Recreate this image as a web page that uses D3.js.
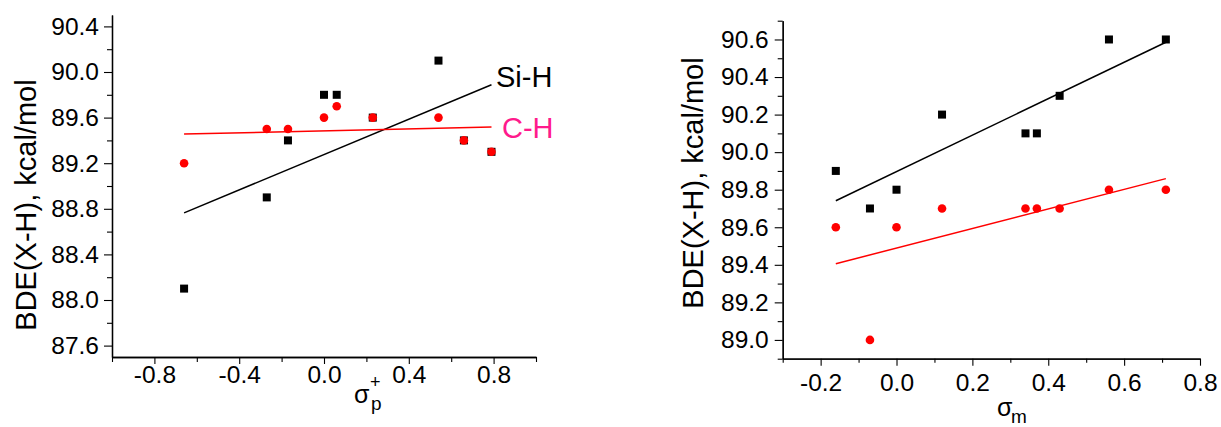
<!DOCTYPE html>
<html>
<head>
<meta charset="utf-8">
<script src="https://cdn.jsdelivr.net/npm/d3@7"></script>
<style>
  body { margin: 0; background: #fff; }
  svg { display: block; font-family: "Liberation Sans", Arial, sans-serif; }
</style>
</head>
<body>
<svg id="chart" width="1221" height="427"></svg>
<script>
// left panel: sigma_p+ substituent constants
const sigmaP = [-0.66, -0.27, -0.17, 0.0, 0.06, 0.23, 0.54, 0.66, 0.79];
const siHLeft = [88.1, 88.9, 89.4, 89.8, 89.8, 89.6, 90.1, 89.4, 89.3];
const cHLeft = [89.2, 89.5, 89.5, 89.6, 89.7, 89.6, 89.6, 89.4, 89.3];
const leftXTicks = [-0.8, -0.4, 0.0, 0.4, 0.8];
const leftXMinor = [-1.0, -0.6, -0.2, 0.2, 0.6, 1.0];
const leftYTicks = [87.6, 88.0, 88.4, 88.8, 89.2, 89.6, 90.0, 90.4];
const leftYMinor = [87.8, 88.2, 88.6, 89.0, 89.4, 89.8, 90.2];

// right panel: sigma_m
const sigmaM = [-0.16, -0.07, 0.0, 0.12, 0.34, 0.37, 0.43, 0.56, 0.71];
const siHRight = [89.9, 89.7, 89.8, 90.2, 90.1, 90.1, 90.3, 90.6, 90.6];
const cHRight = [89.6, 89.0, 89.6, 89.7, 89.7, 89.7, 89.7, 89.8, 89.8];
const rightXTicks = [-0.2, 0.0, 0.2, 0.4, 0.6, 0.8];
const rightXMinor = [-0.3, -0.1, 0.1, 0.3, 0.5, 0.7];
const rightYTicks = [89.0, 89.2, 89.4, 89.6, 89.8, 90.0, 90.2, 90.4, 90.6];
const rightYMinor = [88.9, 89.1, 89.3, 89.5, 89.7, 89.9, 90.1, 90.3, 90.5, 90.7];

const yTitle = "BDE(X-H), kcal/mol";

// least squares fit, drawn between min and max x like Origin does
function linfit(xs, ys) {
    const n = xs.length;
    const mx = d3.mean(xs), my = d3.mean(ys);
    let sxy = 0, sxx = 0;
    for (let i = 0; i < n; i++) {
        sxy += (xs[i] - mx) * (ys[i] - my);
        sxx += (xs[i] - mx) * (xs[i] - mx);
    }
    const b = sxy / sxx, a = my - b * mx;
    const x0 = d3.min(xs), x1 = d3.max(xs);
    return [[x0, a + b * x0], [x1, a + b * x1]];
}

const svg = d3.select("#chart");
// plain hyphen for negatives, like the original
const fmt = d => d3.format(".1f")(d).replace("\u2212", "-");

function drawPanel(p) {
    const xScale = d3.scaleLinear().domain(p.xDomain).range([p.left, p.right]);
    const yScale = d3.scaleLinear().domain(p.yDomain).range([p.bottom, p.top]);

    // x axis
    const gx = svg.append("g").attr("transform", "translate(0," + p.bottom + ")");
    gx.call(d3.axisBottom(xScale).tickValues(p.xTicks).tickFormat(fmt)
        .tickSize(p.majorX).tickPadding(p.xPad).tickSizeOuter(0));
    gx.append("g").call(d3.axisBottom(xScale).tickValues(p.xMinor).tickFormat("")
        .tickSize(p.minorX).tickSizeOuter(0));

    const gy = svg.append("g").attr("transform", "translate(" + p.left + ",0)");
    gy.call(d3.axisLeft(yScale).tickValues(p.yTicks).tickFormat(fmt)
        .tickSize(8).tickPadding(p.yPad).tickSizeOuter(0));
    gy.append("g").call(d3.axisLeft(yScale).tickValues(p.yMinor).tickFormat("")
        .tickSize(5).tickSizeOuter(0));

    svg.selectAll(".domain").attr("stroke", "#000").attr("stroke-width", 1.3);
    svg.selectAll(".tick line").attr("stroke", "#000").attr("stroke-width", 1.1);
    svg.selectAll(".tick text").attr("fill", "#000").style("font-size", "24.5px")
        .style("font-family", "'Liberation Sans', Arial, sans-serif");

    // y title
    svg.append("text")
        .attr("transform", "translate(" + p.yTitleX + "," + p.yTitleY + ")rotate(-90)")
        .attr("text-anchor", "middle")
        .style("font-size", "29px")
        .text(yTitle);

    const line = d3.line().x(d => xScale(d[0])).y(d => yScale(d[1]));

    svg.append("path").datum(linfit(p.xs, p.siH))
        .attr("d", line).attr("fill", "none").attr("stroke", "#000").attr("stroke-width", 1.5);
    svg.append("path").datum(linfit(p.xs, p.cH))
        .attr("d", line).attr("fill", "none").attr("stroke", "#ff0000").attr("stroke-width", 1.5);

    svg.append("g").selectAll("rect").data(p.xs).enter().append("rect")
        .attr("x", (d, i) => xScale(d) - 4)
        .attr("y", (d, i) => yScale(p.siH[i]) - 4)
        .attr("width", 8).attr("height", 8)
        .attr("fill", "#000");
    svg.append("g").selectAll("circle").data(p.xs).enter().append("circle")
        .attr("cx", d => xScale(d))
        .attr("cy", (d, i) => yScale(p.cH[i]))
        .attr("r", 4.3)
        .attr("fill", "#ff0000");

    return { x: xScale, y: yScale };
}

const L = drawPanel({
    xDomain: [-1.0, 1.0], yDomain: [87.5, 90.5],
    left: 112, right: 536, top: 15, bottom: 357,
    xTicks: leftXTicks, xMinor: leftXMinor, yTicks: leftYTicks, yMinor: leftYMinor,
    majorX: 7, minorX: 5, xPad: 2, yPad: 5,
    yTitleX: 36, yTitleY: 205,
    xs: sigmaP, siH: siHLeft, cH: cHLeft
});

const R = drawPanel({
    xDomain: [-0.3, 0.8], yDomain: [88.9, 90.7],
    left: 782.7, right: 1200, top: 20.7, bottom: 358.7,
    xTicks: rightXTicks, xMinor: rightXMinor, yTicks: rightYTicks, yMinor: rightYMinor,
    majorX: 7, minorX: 4, xPad: 8, yPad: 6,
    yTitleX: 703, yTitleY: 183,
    xs: sigmaM, siH: siHRight, cH: cHRight
});

// series labels on the left panel
svg.append("text").attr("x", 496).attr("y", 87).style("font-size", "29px")
    .attr("fill", "#000").text("Si-H");
svg.append("text").attr("x", 502).attr("y", 138).style("font-size", "29px")
    .attr("fill", "#ff1a8c").text("C-H");

// x titles
svg.append("text").attr("x", 354).attr("y", 403).style("font-size", "25px").text("σ");
svg.append("text").attr("x", 370).attr("y", 388).style("font-size", "18px").text("+");
svg.append("text").attr("x", 371).attr("y", 410).style("font-size", "19px").text("p");

svg.append("text").attr("x", 997).attr("y", 416).style("font-size", "25px").text("σ");
svg.append("text").attr("x", 1011).attr("y", 423).style("font-size", "19px").text("m");
</script>
</body>
</html>
